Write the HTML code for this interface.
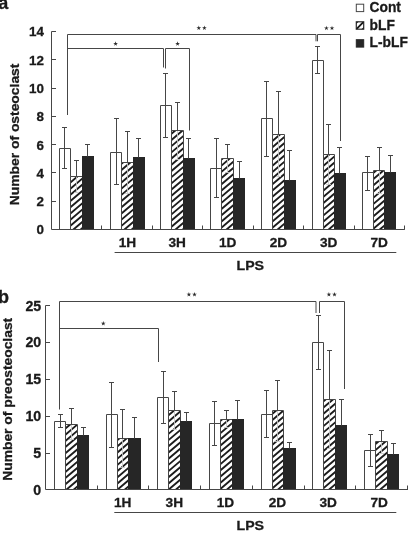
<!DOCTYPE html>
<html><head><meta charset="utf-8"><title>chart</title>
<style>
html,body{margin:0;padding:0;background:#fff}
svg{display:block;will-change:transform}
text{font-family:"Liberation Sans",sans-serif;font-weight:bold;fill:#1a1a1a;stroke:#1a1a1a;stroke-width:0.3px}
.t{font-size:13.4px}
.tb{font-size:14.2px}
.l{font-size:13px}
.y{font-size:13px}
.g{font-size:14px}
.s{font-size:9px;font-weight:normal}
.p{font-size:18px}
</style></head><body>
<svg width="408" height="533" viewBox="0 0 408 533">
<rect width="408" height="533" fill="#fff"/>
<path d="M59.5 229.5V148.5H70.5V229.5" fill="#fff" stroke="#464646" stroke-width="1"/>
<path d="M70.5 229.5V176.5H82.5V229.5" fill="#fff" stroke="#464646" stroke-width="1"/>
<rect x="82" y="156" width="12" height="74" fill="#262626"/>
<path d="M110.5 229.5V152.5H121.5V229.5" fill="#fff" stroke="#464646" stroke-width="1"/>
<path d="M121.5 229.5V162.5H133.5V229.5" fill="#fff" stroke="#464646" stroke-width="1"/>
<rect x="133" y="157" width="12" height="73" fill="#262626"/>
<path d="M160.5 229.5V105.5H171.5V229.5" fill="#fff" stroke="#464646" stroke-width="1"/>
<path d="M171.5 229.5V130.5H183.5V229.5" fill="#fff" stroke="#464646" stroke-width="1"/>
<rect x="183" y="158" width="12" height="72" fill="#262626"/>
<path d="M210.5 229.5V168.5H221.5V229.5" fill="#fff" stroke="#464646" stroke-width="1"/>
<path d="M221.5 229.5V158.5H233.5V229.5" fill="#fff" stroke="#464646" stroke-width="1"/>
<rect x="233" y="178" width="12" height="52" fill="#262626"/>
<path d="M261.5 229.5V118.5H272.5V229.5" fill="#fff" stroke="#464646" stroke-width="1"/>
<path d="M272.5 229.5V134.5H284.5V229.5" fill="#fff" stroke="#464646" stroke-width="1"/>
<rect x="284" y="180" width="12" height="50" fill="#262626"/>
<path d="M312.5 229.5V60.5H323.5V229.5" fill="#fff" stroke="#464646" stroke-width="1"/>
<path d="M323.5 229.5V154.5H334.5V229.5" fill="#fff" stroke="#464646" stroke-width="1"/>
<rect x="334" y="173" width="12" height="57" fill="#262626"/>
<path d="M362.5 229.5V172.5H373.5V229.5" fill="#fff" stroke="#464646" stroke-width="1"/>
<path d="M373.5 229.5V170.5H384.5V229.5" fill="#fff" stroke="#464646" stroke-width="1"/>
<rect x="384" y="172" width="12" height="58" fill="#262626"/>
<path d="M51.5 31.5V229.5H404.8M51.5 31.5h4.5M51.5 59.5h4.5M51.5 88.5h4.5M51.5 116.5h4.5M51.5 144.5h4.5M51.5 172.5h4.5M51.5 201.5h4.5M101.5 229.5v-4M152.5 229.5v-4M202.5 229.5v-4M253.5 229.5v-4M303.5 229.5v-4M354.5 229.5v-4M404.5 229.5v-4" stroke="#464646" stroke-width="1" fill="none"/>
<text x="44" y="36.4" text-anchor="end" class="t">14</text>
<text x="44" y="64.7" text-anchor="end" class="t">12</text>
<text x="44" y="93" text-anchor="end" class="t">10</text>
<text x="44" y="121.3" text-anchor="end" class="t">8</text>
<text x="44" y="149.5" text-anchor="end" class="t">6</text>
<text x="44" y="177.8" text-anchor="end" class="t">4</text>
<text x="44" y="206.1" text-anchor="end" class="t">2</text>
<text x="44" y="234.4" text-anchor="end" class="t">0</text>
<text transform="translate(127.5 246.5) scale(1.05 1)" text-anchor="middle" class="l">1H</text>
<text transform="translate(177.2 246.5) scale(1.05 1)" text-anchor="middle" class="l">3H</text>
<text transform="translate(227.7 246.5) scale(1.05 1)" text-anchor="middle" class="l">1D</text>
<text transform="translate(278.5 246.5) scale(1.05 1)" text-anchor="middle" class="l">2D</text>
<text transform="translate(328.7 246.5) scale(1.05 1)" text-anchor="middle" class="l">3D</text>
<text transform="translate(379.2 246.5) scale(1.05 1)" text-anchor="middle" class="l">7D</text>
<path d="M114.6 252.5H396.3" stroke="#464646" stroke-width="1"/>
<text transform="translate(250.3 270.2) scale(1.09 1)" text-anchor="middle" class="l">LPS</text>
<text transform="translate(19.2 134.4) rotate(-90)" text-anchor="middle" class="y" style="font-size:13.7px" textLength="141.6" lengthAdjust="spacingAndGlyphs">Number of osteoclast</text>
<path d="M54.5 489.5V421.5H65.5V489.5" fill="#fff" stroke="#464646" stroke-width="1"/>
<path d="M65.5 489.5V424.5H77.5V489.5" fill="#fff" stroke="#464646" stroke-width="1"/>
<rect x="77" y="435" width="12" height="55" fill="#262626"/>
<path d="M106.5 489.5V414.5H117.5V489.5" fill="#fff" stroke="#464646" stroke-width="1"/>
<path d="M117.5 489.5V438.5H128.5V489.5" fill="#fff" stroke="#464646" stroke-width="1"/>
<rect x="128" y="438" width="13" height="52" fill="#262626"/>
<path d="M157.5 489.5V397.5H168.5V489.5" fill="#fff" stroke="#464646" stroke-width="1"/>
<path d="M168.5 489.5V410.5H180.5V489.5" fill="#fff" stroke="#464646" stroke-width="1"/>
<rect x="180" y="421" width="12" height="69" fill="#262626"/>
<path d="M209.5 489.5V423.5H220.5V489.5" fill="#fff" stroke="#464646" stroke-width="1"/>
<path d="M220.5 489.5V419.5H232.5V489.5" fill="#fff" stroke="#464646" stroke-width="1"/>
<rect x="232" y="419" width="12" height="71" fill="#262626"/>
<path d="M261.5 489.5V414.5H272.5V489.5" fill="#fff" stroke="#464646" stroke-width="1"/>
<path d="M272.5 489.5V410.5H283.5V489.5" fill="#fff" stroke="#464646" stroke-width="1"/>
<rect x="283" y="448" width="13" height="42" fill="#262626"/>
<path d="M312.5 489.5V342.5H323.5V489.5" fill="#fff" stroke="#464646" stroke-width="1"/>
<path d="M323.5 489.5V399.5H335.5V489.5" fill="#fff" stroke="#464646" stroke-width="1"/>
<rect x="335" y="425" width="12" height="65" fill="#262626"/>
<path d="M364.5 489.5V450.5H375.5V489.5" fill="#fff" stroke="#464646" stroke-width="1"/>
<path d="M375.5 489.5V441.5H387.5V489.5" fill="#fff" stroke="#464646" stroke-width="1"/>
<rect x="387" y="454" width="12" height="36" fill="#262626"/>
<path d="M45.5 305.5V489.5H408M45.5 305.5h4.5M45.5 342.5h4.5M45.5 379.5h4.5M45.5 416.5h4.5M45.5 453.5h4.5M97.5 489.5v-4M148.5 489.5v-4M200.5 489.5v-4M252.5 489.5v-4M304.5 489.5v-4M355.5 489.5v-4M407.5 489.5v-4" stroke="#464646" stroke-width="1" fill="none"/>
<text x="41.2" y="310.5" text-anchor="end" class="tb">25</text>
<text x="41.2" y="347.4" text-anchor="end" class="tb">20</text>
<text x="41.2" y="384.3" text-anchor="end" class="tb">15</text>
<text x="41.2" y="421.2" text-anchor="end" class="tb">10</text>
<text x="41.2" y="458.1" text-anchor="end" class="tb">5</text>
<text x="41.2" y="494.7" text-anchor="end" class="tb">0</text>
<text transform="translate(122.7 506.7) scale(1.05 1)" text-anchor="middle" class="l">1H</text>
<text transform="translate(174.3 506.7) scale(1.05 1)" text-anchor="middle" class="l">3H</text>
<text transform="translate(225.5 506.7) scale(1.05 1)" text-anchor="middle" class="l">1D</text>
<text transform="translate(277.5 506.7) scale(1.05 1)" text-anchor="middle" class="l">2D</text>
<text transform="translate(328.2 506.7) scale(1.05 1)" text-anchor="middle" class="l">3D</text>
<text transform="translate(379.2 506.7) scale(1.05 1)" text-anchor="middle" class="l">7D</text>
<path d="M114.3 512.5H396.3" stroke="#464646" stroke-width="1"/>
<text transform="translate(250.3 529.5) scale(1.09 1)" text-anchor="middle" class="l">LPS</text>
<text transform="translate(12.2 399.3) rotate(-90)" text-anchor="middle" class="y" style="font-size:13.3px" textLength="163" lengthAdjust="spacingAndGlyphs">Number of preosteoclast</text>
<path d="M67.5 115V34.5H316V41.3M317.5 41.3V34.5H340.5V141M67.5 48.5H163.5V67.5M165.5 68.5V48.5H189.5V130.5M59.5 409.5V301.5H316V313M319.5 313V301.5H344.5V389M59.5 328.5H158.5V362" stroke="#464646" stroke-width="1" fill="none"/>
<polygon points="115.6,41.25 116.14,43.01 117.98,42.98 116.47,44.03 117.07,45.77 115.6,44.67 114.13,45.77 114.73,44.03 113.22,42.98 115.06,43.01" fill="#2a2a2a"/>
<polygon points="198.8,25.55 199.34,27.31 201.18,27.28 199.67,28.33 200.27,30.07 198.8,28.97 197.33,30.07 197.93,28.33 196.42,27.28 198.26,27.31" fill="#2a2a2a"/>
<polygon points="204.4,25.55 204.94,27.31 206.78,27.28 205.27,28.33 205.87,30.07 204.4,28.97 202.93,30.07 203.53,28.33 202.02,27.28 203.86,27.31" fill="#2a2a2a"/>
<polygon points="177.6,41.25 178.14,43.01 179.98,42.98 178.47,44.03 179.07,45.77 177.6,44.67 176.13,45.77 176.73,44.03 175.22,42.98 177.06,43.01" fill="#2a2a2a"/>
<polygon points="326.4,25.65 326.94,27.41 328.78,27.38 327.27,28.43 327.87,30.17 326.4,29.07 324.93,30.17 325.53,28.43 324.02,27.38 325.86,27.41" fill="#2a2a2a"/>
<polygon points="332,25.65 332.54,27.41 334.38,27.38 332.87,28.43 333.47,30.17 332,29.07 330.53,30.17 331.13,28.43 329.62,27.38 331.46,27.41" fill="#2a2a2a"/>
<polygon points="103.3,321.05 103.84,322.81 105.68,322.78 104.17,323.83 104.77,325.57 103.3,324.47 101.83,325.57 102.43,323.83 100.92,322.78 102.76,322.81" fill="#2a2a2a"/>
<polygon points="188.9,292.05 189.44,293.81 191.28,293.78 189.77,294.83 190.37,296.57 188.9,295.47 187.43,296.57 188.03,294.83 186.52,293.78 188.36,293.81" fill="#2a2a2a"/>
<polygon points="194.5,292.05 195.04,293.81 196.88,293.78 195.37,294.83 195.97,296.57 194.5,295.47 193.03,296.57 193.63,294.83 192.12,293.78 193.96,293.81" fill="#2a2a2a"/>
<polygon points="328.9,292.05 329.44,293.81 331.28,293.78 329.77,294.83 330.37,296.57 328.9,295.47 327.43,296.57 328.03,294.83 326.52,293.78 328.36,293.81" fill="#2a2a2a"/>
<polygon points="334.5,292.05 335.04,293.81 336.88,293.78 335.37,294.83 335.97,296.57 334.5,295.47 333.03,296.57 333.63,294.83 332.12,293.78 333.96,293.81" fill="#2a2a2a"/>
<rect x="356.3" y="4.2" width="7.4" height="7.4" fill="#fff" stroke="#464646" stroke-width="1"/>
<rect x="356.3" y="21.8" width="7.4" height="7.4" fill="#fff" stroke="#2c2c2c" stroke-width="1.2"/>
<clipPath id="lc"><rect x="356.3" y="21.8" width="7.4" height="7.4"/></clipPath>
<path clip-path="url(#lc)" d="M355.5 30L364.5 21M355 24L359 20M361 31L365 27" stroke="#1c1c1c" stroke-width="1.9"/>
<rect x="356.3" y="39.7" width="7.4" height="7.4" fill="#262626" stroke="#262626" stroke-width="1"/>
<text transform="translate(369.6 11.8) scale(0.985 1)" class="g">Cont</text>
<text transform="translate(369.6 29.5) scale(0.985 1)" class="g">bLF</text>
<text transform="translate(369.6 47.2) scale(0.985 1)" class="g">L-bLF</text>
<text x="-1.8" y="9.3" class="p">a</text>
<text x="-2" y="303" class="p">b</text>
<clipPath id="hc"><rect x="71" y="177" width="11" height="52"/><rect x="122" y="163" width="11" height="66"/><rect x="172" y="131" width="11" height="98"/><rect x="222" y="159" width="11" height="70"/><rect x="273" y="135" width="11" height="94"/><rect x="324" y="155" width="10" height="74"/><rect x="374" y="171" width="10" height="58"/><rect x="66" y="425" width="11" height="64"/><rect x="118" y="439" width="10" height="50"/><rect x="169" y="411" width="11" height="78"/><rect x="221" y="420" width="11" height="69"/><rect x="273" y="411" width="10" height="78"/><rect x="324" y="400" width="11" height="89"/><rect x="376" y="442" width="11" height="47"/></clipPath><path clip-path="url(#hc)" d="M69 177.45L84 164.7M69 183.65L84 170.9M69 189.85L84 177.1M69 196.05L84 183.3M69 202.25L84 189.5M69 208.45L84 195.7M69 214.65L84 201.9M69 220.85L84 208.1M69 227.05L84 214.3M69 233.25L84 220.5M69 239.45L84 226.7M120 165.1L135 152.35M120 171.3L135 158.55M120 177.5L135 164.75M120 183.7L135 170.95M120 189.9L135 177.15M120 196.1L135 183.35M120 202.3L135 189.55M120 208.5L135 195.75M120 214.7L135 201.95M120 220.9L135 208.15M120 227.1L135 214.35M120 233.3L135 220.55M120 239.5L135 226.75M170 135L185 122.25M170 141.2L185 128.45M170 147.4L185 134.65M170 153.6L185 140.85M170 159.8L185 147.05M170 166L185 153.25M170 172.2L185 159.45M170 178.4L185 165.65M170 184.6L185 171.85M170 190.8L185 178.05M170 197L185 184.25M170 203.2L185 190.45M170 209.4L185 196.65M170 215.6L185 202.85M170 221.8L185 209.05M170 228L185 215.25M170 234.2L185 221.45M170 240.4L185 227.65M220 160.7L235 147.95M220 166.9L235 154.15M220 173.1L235 160.35M220 179.3L235 166.55M220 185.5L235 172.75M220 191.7L235 178.95M220 197.9L235 185.15M220 204.1L235 191.35M220 210.3L235 197.55M220 216.5L235 203.75M220 222.7L235 209.95M220 228.9L235 216.15M220 235.1L235 222.35M220 241.3L235 228.55M271 135.95L286 123.2M271 142.15L286 129.4M271 148.35L286 135.6M271 154.55L286 141.8M271 160.75L286 148M271 166.95L286 154.2M271 173.15L286 160.4M271 179.35L286 166.6M271 185.55L286 172.8M271 191.75L286 179M271 197.95L286 185.2M271 204.15L286 191.4M271 210.35L286 197.6M271 216.55L286 203.8M271 222.75L286 210M271 228.95L286 216.2M271 235.15L286 222.4M271 241.35L286 228.6M322 160.8L336 148.9M322 167L336 155.1M322 173.2L336 161.3M322 179.4L336 167.5M322 185.6L336 173.7M322 191.8L336 179.9M322 198L336 186.1M322 204.2L336 192.3M322 210.4L336 198.5M322 216.6L336 204.7M322 222.8L336 210.9M322 229L336 217.1M322 235.2L336 223.3M372 174.1L386 162.2M372 180.3L386 168.4M372 186.5L386 174.6M372 192.7L386 180.8M372 198.9L386 187M372 205.1L386 193.2M372 211.3L386 199.4M372 217.5L386 205.6M372 223.7L386 211.8M372 229.9L386 218M372 236.1L386 224.2M64 429.7L79 416.95M64 435.9L79 423.15M64 442.1L79 429.35M64 448.3L79 435.55M64 454.5L79 441.75M64 460.7L79 447.95M64 466.9L79 454.15M64 473.1L79 460.35M64 479.3L79 466.55M64 485.5L79 472.75M64 491.7L79 478.95M64 497.9L79 485.15M116 441.3L130 429.4M116 447.5L130 435.6M116 453.7L130 441.8M116 459.9L130 448M116 466.1L130 454.2M116 472.3L130 460.4M116 478.5L130 466.6M116 484.7L130 472.8M116 490.9L130 479M116 497.1L130 485.2M167 416.55L182 403.8M167 422.75L182 410M167 428.95L182 416.2M167 435.15L182 422.4M167 441.35L182 428.6M167 447.55L182 434.8M167 453.75L182 441M167 459.95L182 447.2M167 466.15L182 453.4M167 472.35L182 459.6M167 478.55L182 465.8M167 484.75L182 472M167 490.95L182 478.2M167 497.15L182 484.4M219 421.95L234 409.2M219 428.15L234 415.4M219 434.35L234 421.6M219 440.55L234 427.8M219 446.75L234 434M219 452.95L234 440.2M219 459.15L234 446.4M219 465.35L234 452.6M219 471.55L234 458.8M219 477.75L234 465M219 483.95L234 471.2M219 490.15L234 477.4M219 496.35L234 483.6M271 414.95L285 403.05M271 421.15L285 409.25M271 427.35L285 415.45M271 433.55L285 421.65M271 439.75L285 427.85M271 445.95L285 434.05M271 452.15L285 440.25M271 458.35L285 446.45M271 464.55L285 452.65M271 470.75L285 458.85M271 476.95L285 465.05M271 483.15L285 471.25M271 489.35L285 477.45M271 495.55L285 483.65M322 402.6L337 389.85M322 408.8L337 396.05M322 415L337 402.25M322 421.2L337 408.45M322 427.4L337 414.65M322 433.6L337 420.85M322 439.8L337 427.05M322 446L337 433.25M322 452.2L337 439.45M322 458.4L337 445.65M322 464.6L337 451.85M322 470.8L337 458.05M322 477L337 464.25M322 483.2L337 470.45M322 489.4L337 476.65M322 495.6L337 482.85M322 501.8L337 489.05M374 445.2L389 432.45M374 451.4L389 438.65M374 457.6L389 444.85M374 463.8L389 451.05M374 470L389 457.25M374 476.2L389 463.45M374 482.4L389 469.65M374 488.6L389 475.85M374 494.8L389 482.05M374 501L389 488.25" stroke="#1c1c1c" stroke-width="1.9" fill="none"/>
<path d="M64.5 127.5V168.5M62 127.5H67M62 168.5H67" stroke="#464646" stroke-width="1" fill="none"/>
<path d="M76.5 160.5V176.5M74 160.5H79" stroke="#464646" stroke-width="1" fill="none"/>
<path d="M76.5 177V192.5M74 192.5H79" stroke="#c8c8c8" stroke-width="0.85" fill="none"/>
<path d="M87.5 144.5V156.5M85 144.5H90" stroke="#464646" stroke-width="1" fill="none"/>
<path d="M116.5 118.5V184.5M114 118.5H119M114 184.5H119" stroke="#464646" stroke-width="1" fill="none"/>
<path d="M127.5 131.5V162.5M125 131.5H130" stroke="#464646" stroke-width="1" fill="none"/>
<path d="M127.5 163V193.5M125 193.5H130" stroke="#c8c8c8" stroke-width="0.85" fill="none"/>
<path d="M138.5 138.5V157.5M136 138.5H141" stroke="#464646" stroke-width="1" fill="none"/>
<path d="M165.5 73.5V137.5M163 73.5H168M163 137.5H168" stroke="#464646" stroke-width="1" fill="none"/>
<path d="M177.5 102.5V130.5M175 102.5H180" stroke="#464646" stroke-width="1" fill="none"/>
<path d="M177.5 131V159.5M175 159.5H180" stroke="#c8c8c8" stroke-width="0.85" fill="none"/>
<path d="M188.5 138.5V158.5M186 138.5H191" stroke="#464646" stroke-width="1" fill="none"/>
<path d="M216.5 138.5V197.5M214 138.5H219M214 197.5H219" stroke="#464646" stroke-width="1" fill="none"/>
<path d="M227.5 144.5V158.5M225 144.5H230" stroke="#464646" stroke-width="1" fill="none"/>
<path d="M227.5 159V172.5M225 172.5H230" stroke="#c8c8c8" stroke-width="0.85" fill="none"/>
<path d="M239.5 161.5V178.5M237 161.5H242" stroke="#464646" stroke-width="1" fill="none"/>
<path d="M266.5 81.5V156.5M264 81.5H269M264 156.5H269" stroke="#464646" stroke-width="1" fill="none"/>
<path d="M278.5 91.5V134.5M276 91.5H281" stroke="#464646" stroke-width="1" fill="none"/>
<path d="M278.5 135V176.5M276 176.5H281" stroke="#c8c8c8" stroke-width="0.85" fill="none"/>
<path d="M289.5 150.5V180.5M287 150.5H292" stroke="#464646" stroke-width="1" fill="none"/>
<path d="M317.5 46.5V73.5M315 46.5H320M315 73.5H320" stroke="#464646" stroke-width="1" fill="none"/>
<path d="M328.5 124.5V154.5M326 124.5H331" stroke="#464646" stroke-width="1" fill="none"/>
<path d="M328.5 155V184.5M326 184.5H331" stroke="#c8c8c8" stroke-width="0.85" fill="none"/>
<path d="M339.5 147.5V173.5M337 147.5H342" stroke="#464646" stroke-width="1" fill="none"/>
<path d="M367.5 156.5V190.5M365 156.5H370M365 190.5H370" stroke="#464646" stroke-width="1" fill="none"/>
<path d="M379.5 147.5V170.5M377 147.5H382" stroke="#464646" stroke-width="1" fill="none"/>
<path d="M379.5 171V193.5M377 193.5H382" stroke="#c8c8c8" stroke-width="0.85" fill="none"/>
<path d="M390.5 155.5V172.5M388 155.5H393" stroke="#464646" stroke-width="1" fill="none"/>
<path d="M60.5 414.5V427.5M58 414.5H63M58 427.5H63" stroke="#464646" stroke-width="1" fill="none"/>
<path d="M71.5 408.5V424.5M69 408.5H74" stroke="#464646" stroke-width="1" fill="none"/>
<path d="M71.5 425V439.5M69 439.5H74" stroke="#c8c8c8" stroke-width="0.85" fill="none"/>
<path d="M83.5 427.5V435.5M81 427.5H86" stroke="#464646" stroke-width="1" fill="none"/>
<path d="M111.5 382.5V447.5M109 382.5H114M109 447.5H114" stroke="#464646" stroke-width="1" fill="none"/>
<path d="M122.5 409.5V438.5M120 409.5H125" stroke="#464646" stroke-width="1" fill="none"/>
<path d="M122.5 439V467.5M120 467.5H125" stroke="#c8c8c8" stroke-width="0.85" fill="none"/>
<path d="M134.5 417.5V438.5M132 417.5H137" stroke="#464646" stroke-width="1" fill="none"/>
<path d="M163.5 371.5V423.5M161 371.5H166M161 423.5H166" stroke="#464646" stroke-width="1" fill="none"/>
<path d="M174.5 391.5V410.5M172 391.5H177" stroke="#464646" stroke-width="1" fill="none"/>
<path d="M174.5 411V429.5M172 429.5H177" stroke="#c8c8c8" stroke-width="0.85" fill="none"/>
<path d="M186.5 412.5V421.5M184 412.5H189" stroke="#464646" stroke-width="1" fill="none"/>
<path d="M214.5 401.5V445.5M212 401.5H217M212 445.5H217" stroke="#464646" stroke-width="1" fill="none"/>
<path d="M226.5 410.5V419.5M224 410.5H229" stroke="#464646" stroke-width="1" fill="none"/>
<path d="M226.5 420V427.5M224 427.5H229" stroke="#c8c8c8" stroke-width="0.85" fill="none"/>
<path d="M237.5 400.5V419.5M235 400.5H240" stroke="#464646" stroke-width="1" fill="none"/>
<path d="M266.5 390.5V437.5M264 390.5H269M264 437.5H269" stroke="#464646" stroke-width="1" fill="none"/>
<path d="M277.5 380.5V410.5M275 380.5H280" stroke="#464646" stroke-width="1" fill="none"/>
<path d="M277.5 411V441.5M275 441.5H280" stroke="#c8c8c8" stroke-width="0.85" fill="none"/>
<path d="M289.5 442.5V448.5M287 442.5H292" stroke="#464646" stroke-width="1" fill="none"/>
<path d="M318.5 315.5V369.5M316 315.5H321M316 369.5H321" stroke="#464646" stroke-width="1" fill="none"/>
<path d="M329.5 350.5V399.5M327 350.5H332" stroke="#464646" stroke-width="1" fill="none"/>
<path d="M329.5 400V448.5M327 448.5H332" stroke="#c8c8c8" stroke-width="0.85" fill="none"/>
<path d="M341.5 399.5V425.5M339 399.5H344" stroke="#464646" stroke-width="1" fill="none"/>
<path d="M370.5 434.5V466.5M368 434.5H373M368 466.5H373" stroke="#464646" stroke-width="1" fill="none"/>
<path d="M381.5 430.5V441.5M379 430.5H384" stroke="#464646" stroke-width="1" fill="none"/>
<path d="M381.5 442V453.5M379 453.5H384" stroke="#c8c8c8" stroke-width="0.85" fill="none"/>
<path d="M393.5 443.5V454.5M391 443.5H396" stroke="#464646" stroke-width="1" fill="none"/>
</svg>
</body></html>
